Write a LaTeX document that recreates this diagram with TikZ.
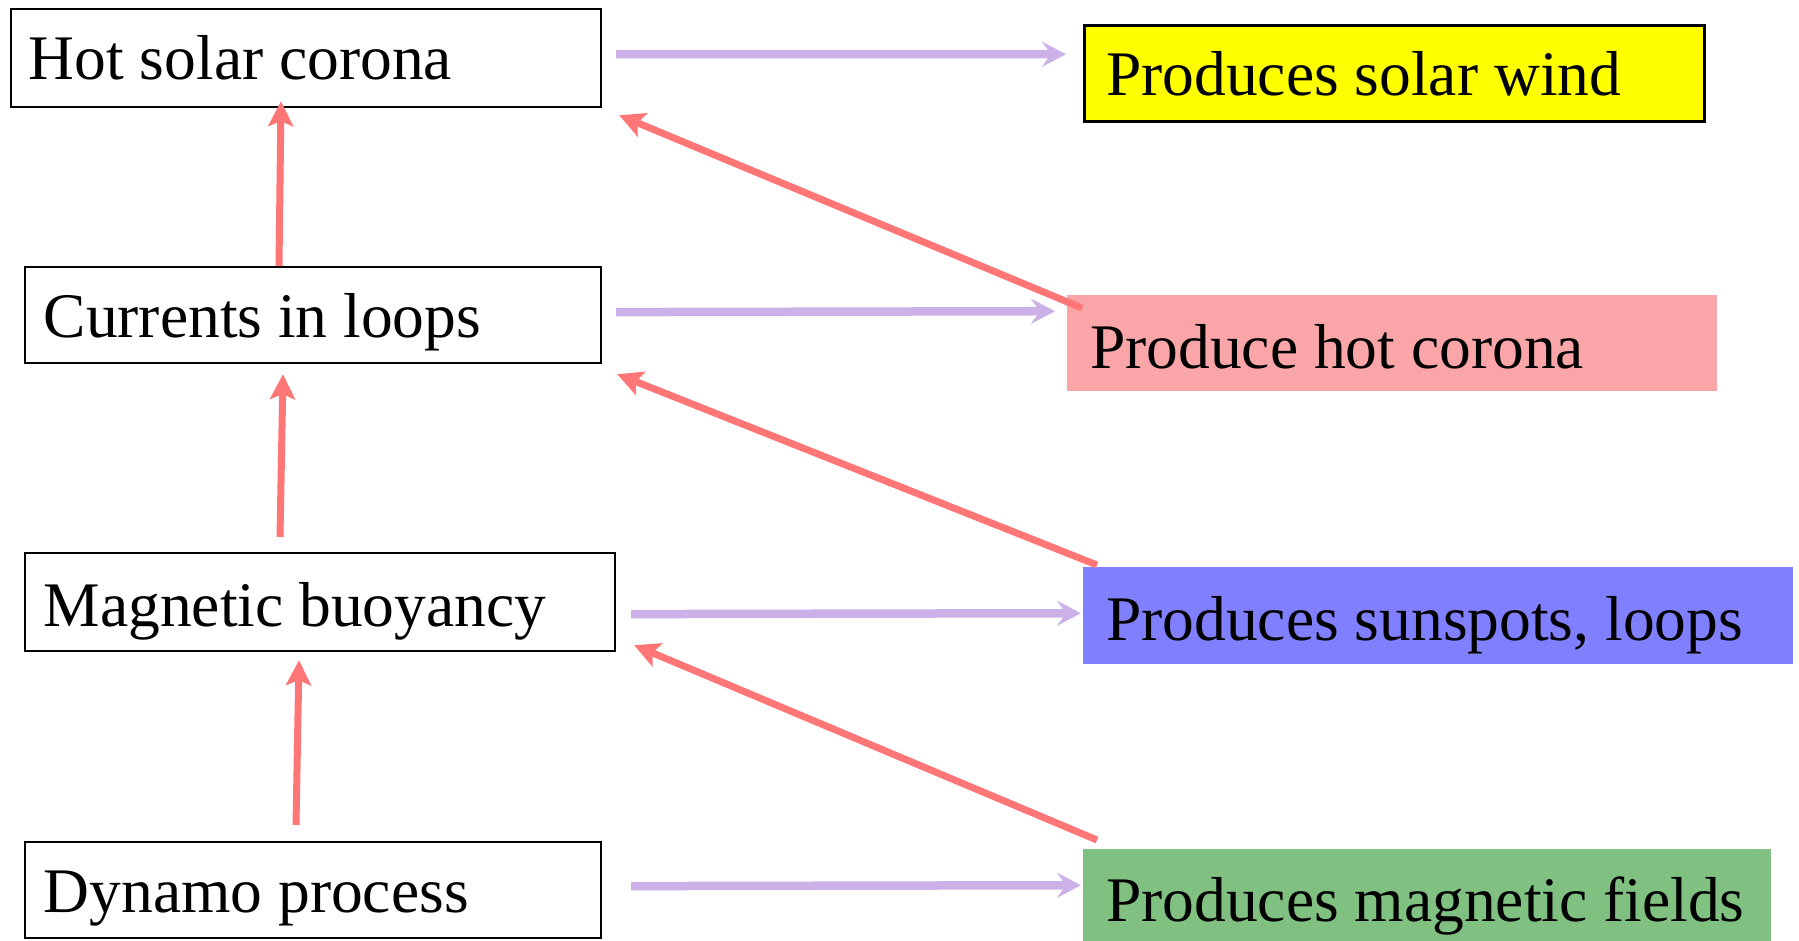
\documentclass[tikz,border=0pt]{standalone}
\usepackage{fontspec}
\setmainfont{Liberation Serif}
\usetikzlibrary{arrows.meta}

\definecolor{linkpurple}{RGB}{204,176,232}
\definecolor{linkred}{RGB}{255,118,118}
\definecolor{heatpink}{RGB}{250,166,168}
\definecolor{spotblue}{RGB}{128,128,255}
\definecolor{fieldgreen}{RGB}{128,192,128}
\definecolor{windyellow}{RGB}{255,255,0}

\tikzset{
  causebox/.style={draw=black, line width=2.2pt, rectangle, inner sep=0pt, anchor=north west},
  effectbox/.style={rectangle, inner sep=0pt, anchor=north west},
  boxtext/.style={inner sep=0pt, anchor=base west, font=\fontsize{63.5}{70}\selectfont},
  leadsto/.style={draw=linkpurple, line width=8.5pt,
    -{Stealth[length=24pt, width=25pt, inset=9pt]}},
  feeds/.style={draw=linkred, line width=7pt,
    -{Stealth[length=25pt, width=25pt, inset=5pt]}}
}

\begin{document}
\begin{tikzpicture}[x=1pt, y=-1pt]
\useasboundingbox (0,0) rectangle (1799,940);

% chain of causes (left column)
\node[causebox, minimum width=590pt, minimum height=98pt] (hot) at (10,8) {};
\node[causebox, minimum width=576pt, minimum height=96pt] (cur) at (24,266) {};
\node[causebox, minimum width=590pt, minimum height=98pt] (mag) at (24,552) {};
\node[causebox, minimum width=576pt, minimum height=96pt] (dyn) at (24,841) {};

\node[boxtext] (hott) at (28.6,79) {Hot solar corona};
\node[boxtext] (curt) at (43.5,337) {Currents in loops};
\node[boxtext] (magt) at (43.5,626) {Magnetic buoyancy};
\node[boxtext] (dynt) at (43.5,912) {Dynamo process};

% effects (right column)
\node[effectbox, fill=windyellow, draw=black, line width=2.5pt, minimum width=620pt, minimum height=96pt] (wind) at (1083,24) {};
\node[effectbox, fill=heatpink, minimum width=650pt, minimum height=96pt] (heat) at (1067,295) {};
\node[effectbox, fill=spotblue, minimum width=710pt, minimum height=97pt] (spot) at (1083,567) {};
\node[effectbox, fill=fieldgreen, minimum width=688pt, minimum height=95pt] (field) at (1083,849) {};

\node[boxtext] (windt) at (1106,95) {Produces solar wind};
\node[boxtext] (heatt) at (1090,368) {Produce hot corona};
\node[boxtext] (spott) at (1106,640) {Produces sunspots, loops};
\node[boxtext] (fieldt) at (1106,921) {Produces magnetic fields};

% each cause leads to its effect
\draw[leadsto] ([shift={(14pt,4pt)}]hot.east) -- ([shift={(-17pt,19pt)}]wind.west);
\draw[leadsto] ([shift={(14pt,3pt)}]cur.east) -- ([shift={(-12pt,32pt)}]heat.west);
\draw[leadsto] ([shift={(15pt,-12pt)}]mag.east) -- ([shift={(-2pt,2.5pt)}]spot.west);
\draw[leadsto] ([shift={(29pt,4pt)}]dyn.east) -- ([shift={(-2pt,11.5pt)}]field.west);

% upward chain
\draw[feeds] ([shift={(255pt,0pt)}]cur.north west) -- ([shift={(271pt,7pt)}]hot.south west);
\draw[feeds] ([shift={(256pt,15pt)}]mag.north west) -- ([shift={(259pt,-10pt)}]cur.south west);
\draw[feeds] ([shift={(272pt,16pt)}]dyn.north west) -- ([shift={(275pt,-8pt)}]mag.south west);

% effects feeding the next cause
\draw[feeds] ([shift={(15pt,-13pt)}]heat.north west) -- ([shift={(17pt,-7pt)}]hot.south east);
\draw[feeds] ([shift={(14pt,2pt)}]spot.north west) -- ([shift={(15pt,-10pt)}]cur.south east);
\draw[feeds] ([shift={(14pt,9pt)}]field.north west) -- ([shift={(18pt,7pt)}]mag.south east);
\end{tikzpicture}
\end{document}
